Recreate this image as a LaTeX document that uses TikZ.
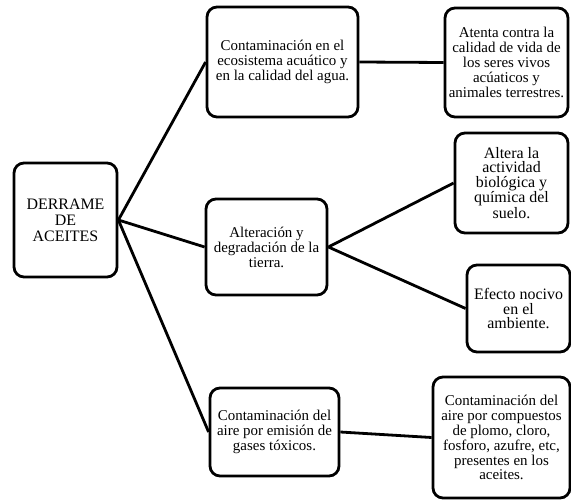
\documentclass[tikz,border=0pt]{standalone}
\usepackage{fontspec}
\setmainfont{Liberation Serif}
\usepackage{tikz}

\begin{document}
\begin{tikzpicture}[x=1bp, y=-1bp,
	every node/.style={font=\fontsize{15}{15}\selectfont},
	caja/.style={draw, line width=2.8bp, rounded corners=10bp, align=center, inner sep=2bp},
	enlace/.style={line width=2.8bp}]
	% \draw[gray, very thin] (0,0) grid[step=50] (571,501);
	\useasboundingbox (0,0) rectangle (571,501);

	\node[caja, minimum width=103bp, minimum height=114bp, font=\fontsize{16}{16}\selectfont] (derrame) at (65.5,220) {DERRAME\\DE\\ACEITES};

	\node[caja, minimum width=151bp, minimum height=110bp] (agua) at (282.5,62) {Contaminación en el\\ecosistema acuático y\\en la calidad del agua.};
	\node[caja, minimum width=121bp, minimum height=96bp] (tierra) at (266.5,247) {Alteración y\\degradación de la\\tierra.};
	\node[caja, minimum width=129bp, minimum height=88bp] (aire) at (274.5,432) {Contaminación del\\aire por emisión de\\gases tóxicos.};

	\node[caja, minimum width=123bp, minimum height=109bp] (vida) at (506.5,62.5) {Atenta contra la\\calidad de vida de\\los seres vivos\\acúaticos y\\animales terrestres.};
	\node[caja, minimum width=113bp, minimum height=100bp, font=\fontsize{16}{14.5}\selectfont] (suelo) at (511.5,183) {Altera la\\actividad\\biológica y\\química del\\suelo.};
	\node[caja, minimum width=103bp, minimum height=87bp, font=\fontsize{16}{15}\selectfont] (nocivo) at (518.5,308.5) {Efecto nocivo\\en el\\ambiente.};
	\node[caja, minimum width=137bp, minimum height=121bp] (plomo) at (501.5,437.5) {Contaminación del\\aire por compuestos\\de plomo, cloro,\\fosforo, azufre, etc,\\presentes en los\\aceites.};

	\draw[enlace] (derrame.east) -- (agua.west);
	\draw[enlace] (derrame.east) -- (tierra.west);
	\draw[enlace] (derrame.east) -- (aire.west);
	\draw[enlace] (agua.east) -- (vida.west);
	\draw[enlace] (tierra.east) -- (suelo.west);
	\draw[enlace] (tierra.east) -- (nocivo.west);
	\draw[enlace] (aire.east) -- (plomo.west);
\end{tikzpicture}
\end{document}
